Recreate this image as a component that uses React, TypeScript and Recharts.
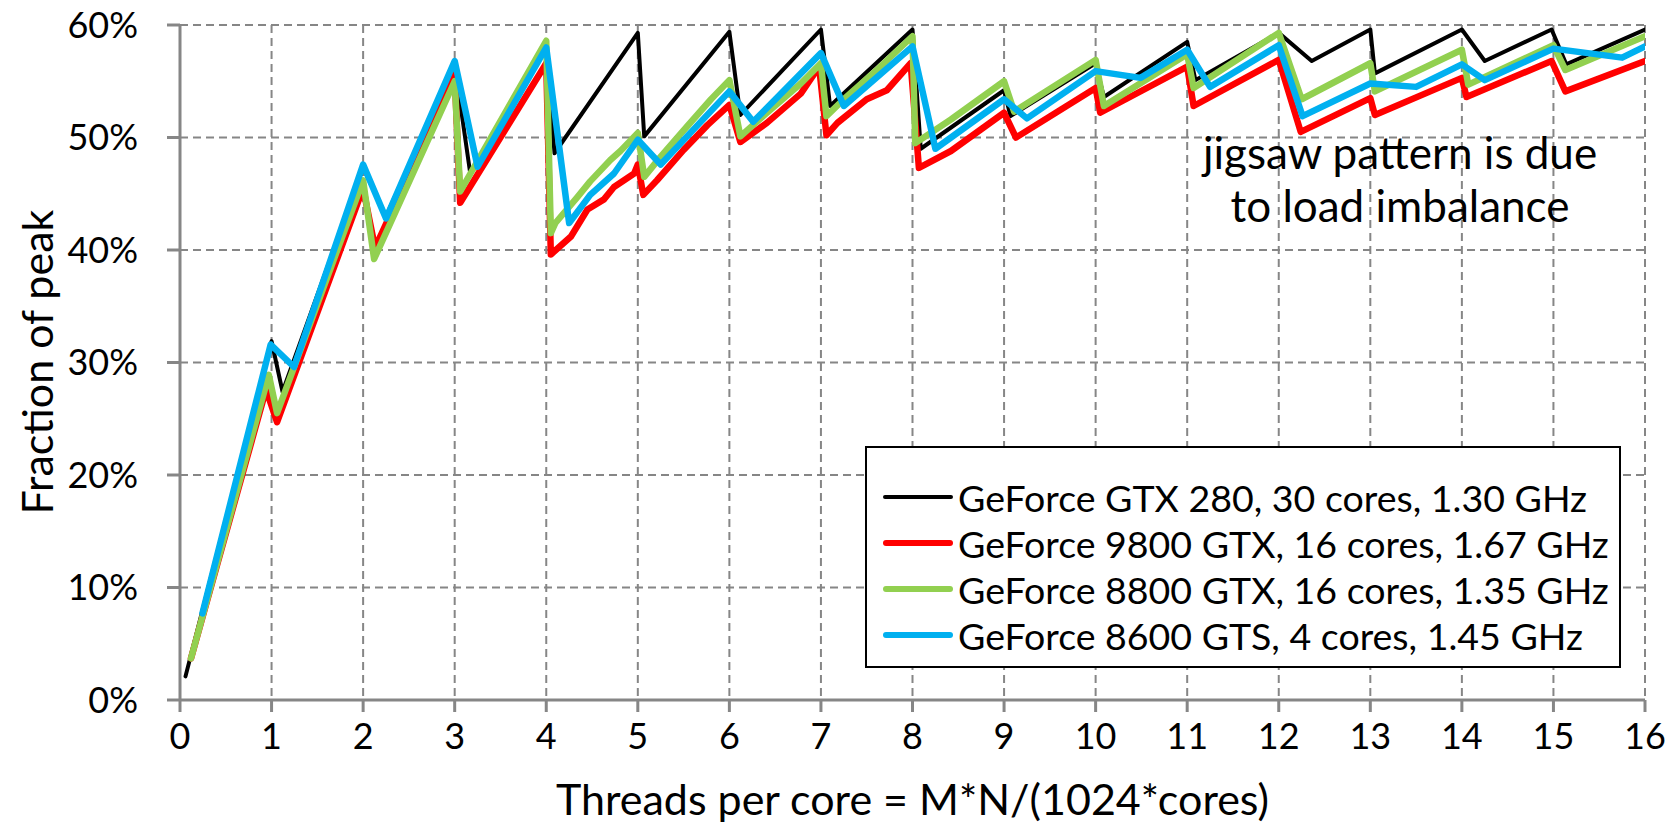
import React from "react";
import { LineChart, Line, XAxis, YAxis, CartesianGrid, Legend } from "recharts";

const X_TICKS = [0, 1, 2, 3, 4, 5, 6, 7, 8, 9, 10, 11, 12, 13, 14, 15, 16];
const Y_TICKS = [0, 10, 20, 30, 40, 50, 60];

// [threads per core, fraction of peak %]
const GTX280: [number, number][] = [
  [0.06, 2.1], [1.0, 31.9], [1.12, 27.4], [2.0, 47.3], [2.25, 43.0], [3.0, 56.5],
  [3.17, 46.8], [4.0, 58.2], [4.09, 48.6], [5.0, 59.3], [5.07, 50.1], [6.0, 59.4],
  [6.12, 52.0], [7.0, 59.6], [7.1, 52.8], [8.0, 59.6], [8.09, 49.0], [9.0, 54.2],
  [9.07, 51.9], [10.0, 56.6], [10.09, 53.6], [11.0, 58.5], [11.09, 55.1], [12.0, 59.3],
  [12.36, 56.8], [13.0, 59.6], [13.05, 55.7], [14.0, 59.6], [14.25, 56.8], [14.98, 59.6],
  [15.14, 56.5], [16.0, 59.6],
];

const GTX9800: [number, number][] = [
  [0.12, 3.7], [0.94, 27.6], [1.06, 24.7], [2.0, 45.5], [2.13, 40.2], [3.0, 55.6],
  [3.06, 44.2], [4.0, 56.6], [4.05, 39.6], [4.27, 41.2], [4.45, 43.6], [4.63, 44.5],
  [4.74, 45.6], [4.96, 46.8], [5.0, 47.6], [5.06, 44.9], [5.21, 46.2], [5.5, 48.9],
  [5.76, 51.1], [6.0, 52.9], [6.12, 49.6], [6.41, 51.3], [6.78, 53.9], [6.98, 56.3],
  [7.06, 50.2], [7.18, 51.3], [7.5, 53.4], [7.72, 54.2], [7.98, 56.6], [8.07, 47.3],
  [8.42, 48.8], [9.0, 52.2], [9.13, 50.0], [10.0, 54.4], [10.05, 52.2], [11.0, 56.3],
  [11.07, 52.8], [12.0, 56.9], [12.24, 50.5], [13.0, 53.5], [13.05, 52.0], [14.0, 55.3],
  [14.05, 53.6], [14.98, 56.8], [15.13, 54.1], [16.0, 56.8],
];

const GTX8800: [number, number][] = [
  [0.12, 3.7], [0.97, 28.9], [1.06, 25.5], [2.0, 46.2], [2.12, 39.2], [3.0, 55.0],
  [3.06, 45.2], [4.0, 58.6], [4.05, 41.5], [4.1, 42.4], [4.34, 44.7], [4.48, 46.1],
  [4.7, 48.0], [4.81, 48.8], [5.0, 50.4], [5.07, 46.5], [5.25, 48.3], [5.54, 51.0],
  [5.8, 53.4], [6.0, 55.1], [6.12, 50.1], [6.41, 52.2], [6.78, 54.8], [7.0, 56.6],
  [7.06, 51.9], [7.25, 53.4], [7.61, 56.0], [8.0, 59.0], [8.03, 49.5], [8.42, 51.6],
  [9.0, 55.0], [9.11, 52.3], [10.0, 56.9], [10.09, 52.8], [11.0, 57.4], [11.07, 54.4],
  [12.0, 59.3], [12.25, 53.4], [13.0, 56.6], [13.05, 54.1], [14.0, 57.8], [14.07, 54.7],
  [15.0, 58.2], [15.13, 56.0], [16.0, 59.0],
];

const GTS8600: [number, number][] = [
  [0.245, 7.7], [0.99, 31.6], [1.245, 29.6], [2.0, 47.6], [2.25, 42.8], [3.0, 56.8],
  [3.25, 47.4], [4.0, 58.0], [4.25, 42.4], [4.48, 44.9], [4.74, 46.8], [5.0, 49.8],
  [5.25, 47.6], [6.0, 54.1], [6.26, 51.4], [7.0, 57.5], [7.25, 52.8], [8.0, 58.1],
  [8.25, 49.0], [9.0, 53.4], [9.25, 51.7], [10.0, 55.9], [10.49, 55.3], [11.0, 57.8],
  [11.25, 54.5], [12.0, 58.2], [12.26, 51.9], [13.0, 54.8], [13.5, 54.5], [14.0, 56.5],
  [14.25, 55.1], [15.0, 57.9], [15.75, 57.1], [16.0, 58.1],
];

const SERIES = [
  { name: "GeForce GTX 280, 30 cores, 1.30 GHz", color: "#000000", width: 4, points: GTX280 },
  { name: "GeForce 9800 GTX, 16 cores, 1.67 GHz", color: "#ff0000", width: 6.5, points: GTX9800 },
  { name: "GeForce 8800 GTX, 16 cores, 1.35 GHz", color: "#92d050", width: 6.5, points: GTX8800 },
  { name: "GeForce 8600 GTS, 4 cores, 1.45 GHz", color: "#00b0f0", width: 6.5, points: GTS8600 },
];

const FONT = "Lato, 'Open Sans', sans-serif";
const GRAY = "#868686";

function LegendBox() {
  return (
    <div
      style={{
        boxSizing: "border-box",
        width: 756,
        height: 222,
        border: "2px solid #000",
        background: "#fff",
        padding: "26px 0 12px 16px",
        fontFamily: FONT,
        fontSize: 37.5,
        color: "#000",
      }}
    >
      {SERIES.map((s) => (
        <div key={s.name} style={{ display: "flex", alignItems: "center", height: 46 }}>
          <span
            style={{
              display: "inline-block",
              width: 70,
              height: s.width,
              borderRadius: s.width / 2,
              background: s.color,
              marginRight: 5,
            }}
          />
          <span style={{ whiteSpace: "nowrap" }}>{s.name}</span>
        </div>
      ))}
    </div>
  );
}

export default function App() {
  return (
    <div
      style={{
        position: "absolute",
        left: 0,
        top: 0,
        width: 1673,
        height: 827,
        background: "#fff",
        fontFamily: FONT,
      }}
    >
      <LineChart width={1673} height={827} margin={{ top: 25, right: 28, bottom: 0, left: 0 }}>
        <CartesianGrid stroke={GRAY} strokeWidth={2} strokeDasharray="8 5" />
        <XAxis
          dataKey="x"
          type="number"
          domain={[0, 16]}
          ticks={X_TICKS}
          allowDataOverflow
          height={127}
          stroke={GRAY}
          strokeWidth={3}
          tickSize={12}
          tickMargin={11}
          tick={{ fontSize: 36, fill: "#000", fontFamily: FONT }}
          label={{
            value: "Threads per core = M*N/(1024*cores)",
            position: "insideBottom",
            offset: 12,
            style: { fontSize: 43, fill: "#000", fontFamily: FONT },
          }}
        />
        <YAxis
          type="number"
          domain={[0, 60]}
          ticks={Y_TICKS}
          allowDataOverflow
          width={180}
          stroke={GRAY}
          strokeWidth={3}
          tickSize={13}
          tickMargin={29}
          tickFormatter={(v: number) => `${v}%`}
          tick={{ fontSize: 36, fill: "#000", fontFamily: FONT }}
          label={{
            content: () => (
              <text
                x={36}
                y={362}
                transform="rotate(-90 36 362)"
                textAnchor="middle"
                dominantBaseline="central"
                style={{ fontSize: 43, fill: "#000", fontFamily: FONT }}
              >
                Fraction of peak
              </text>
            ),
          }}
        />
        {SERIES.map((s) => (
          <Line
            key={s.name}
            name={s.name}
            data={s.points.map(([x, y]) => ({ x, y }))}
            dataKey="y"
            type="linear"
            stroke={s.color}
            strokeWidth={s.width}
            strokeLinejoin="round"
            strokeLinecap="round"
            dot={false}
            activeDot={false}
            isAnimationActive={false}
          />
        ))}
        <Legend
          layout="horizontal"
          verticalAlign="middle"
          align="center"
          content={() => <LegendBox />}
          wrapperStyle={{ left: 865, top: 446, width: 756, height: 222, bottom: "auto", right: "auto" }}
        />
      </LineChart>
      <div
        style={{
          position: "absolute",
          left: 1200,
          top: 126,
          width: 400,
          textAlign: "center",
          fontSize: 44,
          lineHeight: "53px",
          color: "#000",
          fontFamily: FONT,
          whiteSpace: "nowrap",
        }}
      >
        jigsaw pattern is due
        <br />
        to load imbalance
      </div>
    </div>
  );
}
